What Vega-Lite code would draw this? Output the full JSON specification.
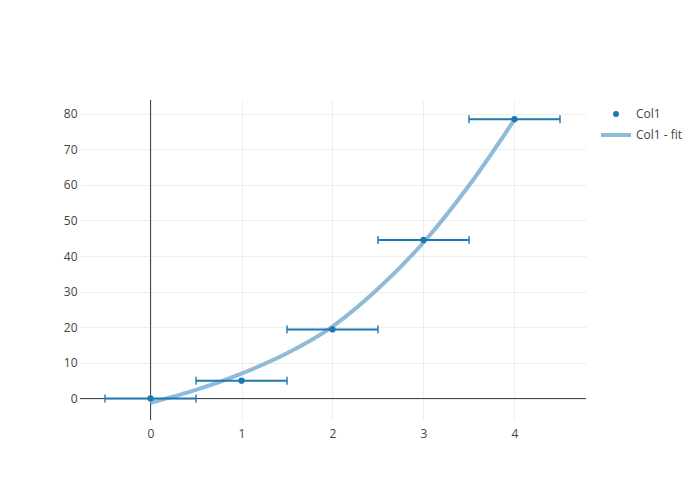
{
  "$schema": "https://vega.github.io/schema/vega-lite/v6.json",
  "width": 506,
  "height": 320,
  "autosize": {"type": "none"},
  "padding": {"left": 80, "top": 100, "right": 114, "bottom": 80},
  "background": "white",
  "config": {
    "view": {"stroke": null},
    "font": "Open Sans",
    "axis": {
      "domain": false,
      "ticks": false,
      "gridColor": "#eeeeee",
      "gridWidth": 1,
      "labelColor": "#444444",
      "labelFont": "Open Sans",
      "labelFontSize": 12,
      "title": null
    }
  },
  "datasets": {
    "pts": [
      {"x": 0, "y": 0, "xlo": -0.5, "xhi": 0.5, "series": "Col1"},
      {"x": 1, "y": 5, "xlo": 0.5, "xhi": 1.5, "series": "Col1"},
      {"x": 2, "y": 19.4, "xlo": 1.5, "xhi": 2.5, "series": "Col1"},
      {"x": 3, "y": 44.5, "xlo": 2.5, "xhi": 3.5, "series": "Col1"},
      {"x": 4, "y": 78.4, "xlo": 3.5, "xhi": 4.5, "series": "Col1"}
    ],
    "fit": [
      {"x": 0, "y": -1.2, "series": "Col1 - fit"},
      {"x": 0.5, "y": 2.4, "series": "Col1 - fit"},
      {"x": 1, "y": 7.0, "series": "Col1 - fit"},
      {"x": 1.5, "y": 12.7, "series": "Col1 - fit"},
      {"x": 2, "y": 20.2, "series": "Col1 - fit"},
      {"x": 2.5, "y": 30.8, "series": "Col1 - fit"},
      {"x": 3, "y": 43.8, "series": "Col1 - fit"},
      {"x": 3.5, "y": 59.8, "series": "Col1 - fit"},
      {"x": 4, "y": 78.3, "series": "Col1 - fit"}
    ],
    "zero": [{"z": 0}]
  },
  "layer": [
    {
      "data": {"name": "zero"},
      "mark": {"type": "rule", "color": "#444444", "strokeWidth": 1},
      "encoding": {
        "x": {"field": "z", "type": "quantitative",
          "scale": {"domain": [-0.775, 4.786], "nice": false, "zero": false},
          "axis": {"values": [0, 1, 2, 3, 4], "labelPadding": 8, "format": "d"}}
      }
    },
    {
      "data": {"name": "zero"},
      "mark": {"type": "rule", "color": "#444444", "strokeWidth": 1},
      "encoding": {
        "y": {"field": "z", "type": "quantitative",
          "scale": {"domain": [-6.03, 83.8], "nice": false, "zero": false},
          "axis": {"values": [0, 10, 20, 30, 40, 50, 60, 70, 80], "labelPadding": 3, "format": "d"}}
      }
    },
    {
      "data": {"name": "fit"},
      "mark": {"type": "line", "strokeWidth": 4, "interpolate": "monotone", "clip": true},
      "encoding": {
        "x": {"field": "x", "type": "quantitative",
          "axis": {"values": [0, 1, 2, 3, 4], "labelPadding": 8, "format": "d"}},
        "y": {"field": "y", "type": "quantitative",
          "axis": {"values": [0, 10, 20, 30, 40, 50, 60, 70, 80], "labelPadding": 3, "format": "d"}},
        "color": {
          "field": "series", "type": "nominal",
          "scale": {"domain": ["Col1", "Col1 - fit"], "range": ["#1f77b4", "#8fbbd9"]},
          "legend": {
            "title": null,
            "orient": "none",
            "legendX": 530,
            "legendY": 8,
            "labelFont": "Open Sans",
            "labelFontSize": 12,
            "labelColor": "#444444",
            "labelOffset": 14,
            "symbolSize": 36,
            "rowPadding": 7,
            "padding": 0,
            "encode": {
              "symbols": {
                "update": {
                  "shape": {"signal": "datum.value === 'Col1' ? 'circle' : 'stroke'"},
                  "size": {"signal": "datum.value === 'Col1' ? 36 : 900"},
                  "strokeWidth": {"signal": "datum.value === 'Col1' ? 0 : 4"},
                  "stroke": {"signal": "datum.value === 'Col1' ? '#1f77b4' : '#8fbbd9'"},
                  "fill": {"signal": "datum.value === 'Col1' ? '#1f77b4' : 'transparent'"},
                  "opacity": {"value": 1}
                }
              }
            }
          }
        }
      }
    },
    {
      "data": {"name": "pts"},
      "mark": {"type": "rule", "color": "#1f77b4", "strokeWidth": 2},
      "encoding": {
        "x": {"field": "xlo", "type": "quantitative",
          "axis": {"values": [0, 1, 2, 3, 4], "labelPadding": 8, "format": "d"}},
        "x2": {"field": "xhi"},
        "y": {"field": "y", "type": "quantitative",
          "axis": {"values": [0, 10, 20, 30, 40, 50, 60, 70, 80], "labelPadding": 3, "format": "d"}}
      }
    },
    {
      "data": {"name": "pts"},
      "mark": {"type": "tick", "orient": "vertical", "color": "#1f77b4", "thickness": 2, "size": 8},
      "encoding": {
        "x": {"field": "xlo", "type": "quantitative",
          "axis": {"values": [0, 1, 2, 3, 4], "labelPadding": 8, "format": "d"}},
        "y": {"field": "y", "type": "quantitative",
          "axis": {"values": [0, 10, 20, 30, 40, 50, 60, 70, 80], "labelPadding": 3, "format": "d"}}
      }
    },
    {
      "data": {"name": "pts"},
      "mark": {"type": "tick", "orient": "vertical", "color": "#1f77b4", "thickness": 2, "size": 8},
      "encoding": {
        "x": {"field": "xhi", "type": "quantitative",
          "axis": {"values": [0, 1, 2, 3, 4], "labelPadding": 8, "format": "d"}},
        "y": {"field": "y", "type": "quantitative",
          "axis": {"values": [0, 10, 20, 30, 40, 50, 60, 70, 80], "labelPadding": 3, "format": "d"}}
      }
    },
    {
      "data": {"name": "pts"},
      "mark": {"type": "point", "filled": true, "opacity": 1, "size": 40},
      "encoding": {
        "x": {"field": "x", "type": "quantitative",
          "axis": {"values": [0, 1, 2, 3, 4], "labelPadding": 8, "format": "d"}},
        "y": {"field": "y", "type": "quantitative",
          "axis": {"values": [0, 10, 20, 30, 40, 50, 60, 70, 80], "labelPadding": 3, "format": "d"}},
        "color": {"field": "series", "type": "nominal"}
      }
    }
  ],
  "resolve": {"scale": {"color": "shared"}}
}
